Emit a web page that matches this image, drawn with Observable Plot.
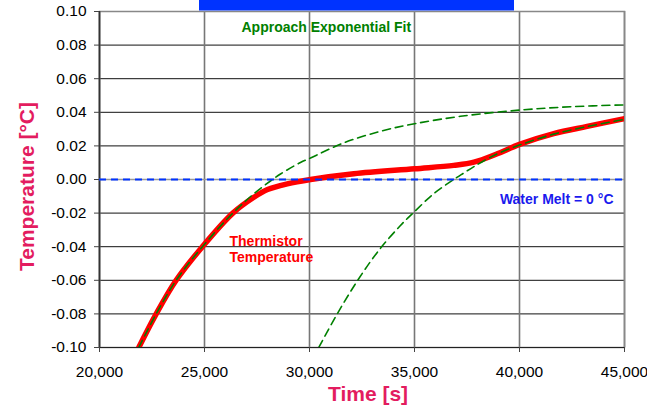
<!DOCTYPE html>
<html>
<head>
<meta charset="utf-8">
<script src="https://cdn.jsdelivr.net/npm/d3@7"></script>
<script src="https://cdn.jsdelivr.net/npm/@observablehq/plot@0.6"></script>
<style>
  html, body { margin: 0; padding: 0; background: white; }
</style>
</head>
<body>
<div id="chart"></div>
<script>
// Tick values
const xTicks = [20000, 25000, 30000, 35000, 40000, 45000];
const yTicks = [-0.10, -0.08, -0.06, -0.04, -0.02, 0.00, 0.02, 0.04, 0.06, 0.08, 0.10];

// Thermistor temperature
const thermTime = [21870, 22700, 23650, 24900, 26350, 27350, 28000, 28940, 30050, 32110, 35000, 36870, 37830, 38940, 40000, 41630, 43220, 45000];
const thermTemp = [-0.100, -0.080, -0.060, -0.040, -0.020, -0.0106, -0.0060, -0.0026, 0.0000, 0.0034, 0.0064, 0.0084, 0.0103, 0.0153, 0.0209, 0.0273, 0.0316, 0.0362];

// First approach exponential fit
const fit1Time = [21870, 22700, 23650, 24900, 26350, 27350, 28240, 28620, 29570, 30050, 31630, 33380, 35000, 37190, 40000, 42430, 45000];
const fit1Temp = [-0.100, -0.080, -0.060, -0.040, -0.0200, -0.0085, 0.0000, 0.0033, 0.0101, 0.0128, 0.0218, 0.0287, 0.0332, 0.0376, 0.0413, 0.0433, 0.0444];

// Second approach exponential fit
const fit2Time = [30440, 31320, 32270, 33300, 34330, 34970, 35920, 36870, 37350, 37830, 38780, 40000, 41630, 43220, 45000];
const fit2Temp = [-0.100, -0.080, -0.0605, -0.0422, -0.0274, -0.0195, -0.0084, 0.0000, 0.0039, 0.0077, 0.0143, 0.0205, 0.0270, 0.0315, 0.0358];

// Labels
const fitLabel = "Approach Exponential Fit";
const meltLabel = "Water Melt = 0 °C";
const thermLabel = "Thermistor\nTemperature";
const xLabel = "Time [s]";
const yLabel = "Temperature [°C]";
const meltValue = [0];

const toRows = (ts, vs) => ts.map((t, i) => ({t, v: vs[i]}));
const therm = toRows(thermTime, thermTemp);
const fit1 = toRows(fit1Time, fit1Temp);
const fit2 = toRows(fit2Time, fit2Temp);

const labelColor = "#e31c5f";

const chart = Plot.plot({
  width: 647,
  height: 407,
  marginLeft: 99,
  marginRight: 23,
  marginTop: 11,
  marginBottom: 60,
  style: {fontFamily: "'Liberation Sans', Arial, sans-serif", fontSize: "15.5px", background: "white", color: "black", overflow: "visible"},
  x: {domain: [20000, 45000]},
  y: {domain: [-0.1, 0.1]},
  marks: [
    Plot.ruleY(yTicks, {stroke: "#111", strokeWidth: 1}),
    Plot.ruleX(xTicks, {stroke: "#777", strokeWidth: 1.6}),
    Plot.frame({stroke: "#888", strokeWidth: 1.5}),
    Plot.ruleX([20000], {stroke: "#333", strokeWidth: 1.6}),
    Plot.ruleY([-0.1], {stroke: "#222", strokeWidth: 1.2}),
    Plot.ruleY(meltValue, {stroke: "#999", strokeWidth: 1.5}),
    Plot.line(therm, {x: "t", y: "v", stroke: "#ff0000", strokeWidth: 5.5, curve: "catmull-rom", clip: true}),
    Plot.line(fit1, {x: "t", y: "v", stroke: "#008000", strokeWidth: 1.6, strokeDasharray: "8,5", curve: "catmull-rom", clip: true}),
    Plot.line(fit2, {x: "t", y: "v", stroke: "#008000", strokeWidth: 1.6, strokeDasharray: "8,5", curve: "catmull-rom", clip: true}),
    Plot.ruleY(meltValue, {stroke: "#0033ff", strokeWidth: 2, strokeDasharray: "7,5"}),
    Plot.axisY({ticks: yTicks, tickSize: 5, tickPadding: 8, tickFormat: d => d.toFixed(2), stroke: "#444", fill: "black", label: null}),
    Plot.axisX({ticks: xTicks, tickSize: 5, tickPadding: 13, tickFormat: d3.format(","), stroke: "#444", fill: "black", label: null}),
    Plot.text([fitLabel], {frameAnchor: "top-left", dx: 142, dy: 20, text: d => d, textAnchor: "start", lineAnchor: "bottom", fill: "#008000", fontWeight: "bold", fontSize: 14}),
    Plot.text([meltLabel], {frameAnchor: "top-right", dx: -11, dy: 192, text: d => d, textAnchor: "end", lineAnchor: "bottom", fill: "#1a1aee", fontWeight: "bold", fontSize: 14}),
    Plot.text([thermLabel], {frameAnchor: "top-left", dx: 130, dy: 223, text: d => d, textAnchor: "start", lineAnchor: "top", lineHeight: 1.143, fill: "#ff0000", fontWeight: "bold", fontSize: 14}),
    Plot.text([xLabel], {frameAnchor: "bottom", dx: 6, dy: 53, text: d => d, textAnchor: "middle", lineAnchor: "bottom", fill: labelColor, fontWeight: "bold", fontSize: 21}),
    Plot.text([yLabel], {frameAnchor: "left", dx: -72, dy: 7, rotate: -90, text: d => d, textAnchor: "middle", lineAnchor: "middle", fill: labelColor, fontWeight: "bold", fontSize: 21})
  ]
});

// Top title box (cut off at the top edge of the picture)
d3.select(chart).append("rect")
  .attr("x", 199).attr("y", 0).attr("width", 315).attr("height", 10.5)
  .attr("fill", "#0033ff");

document.getElementById("chart").appendChild(chart);
</script>
</body>
</html>
